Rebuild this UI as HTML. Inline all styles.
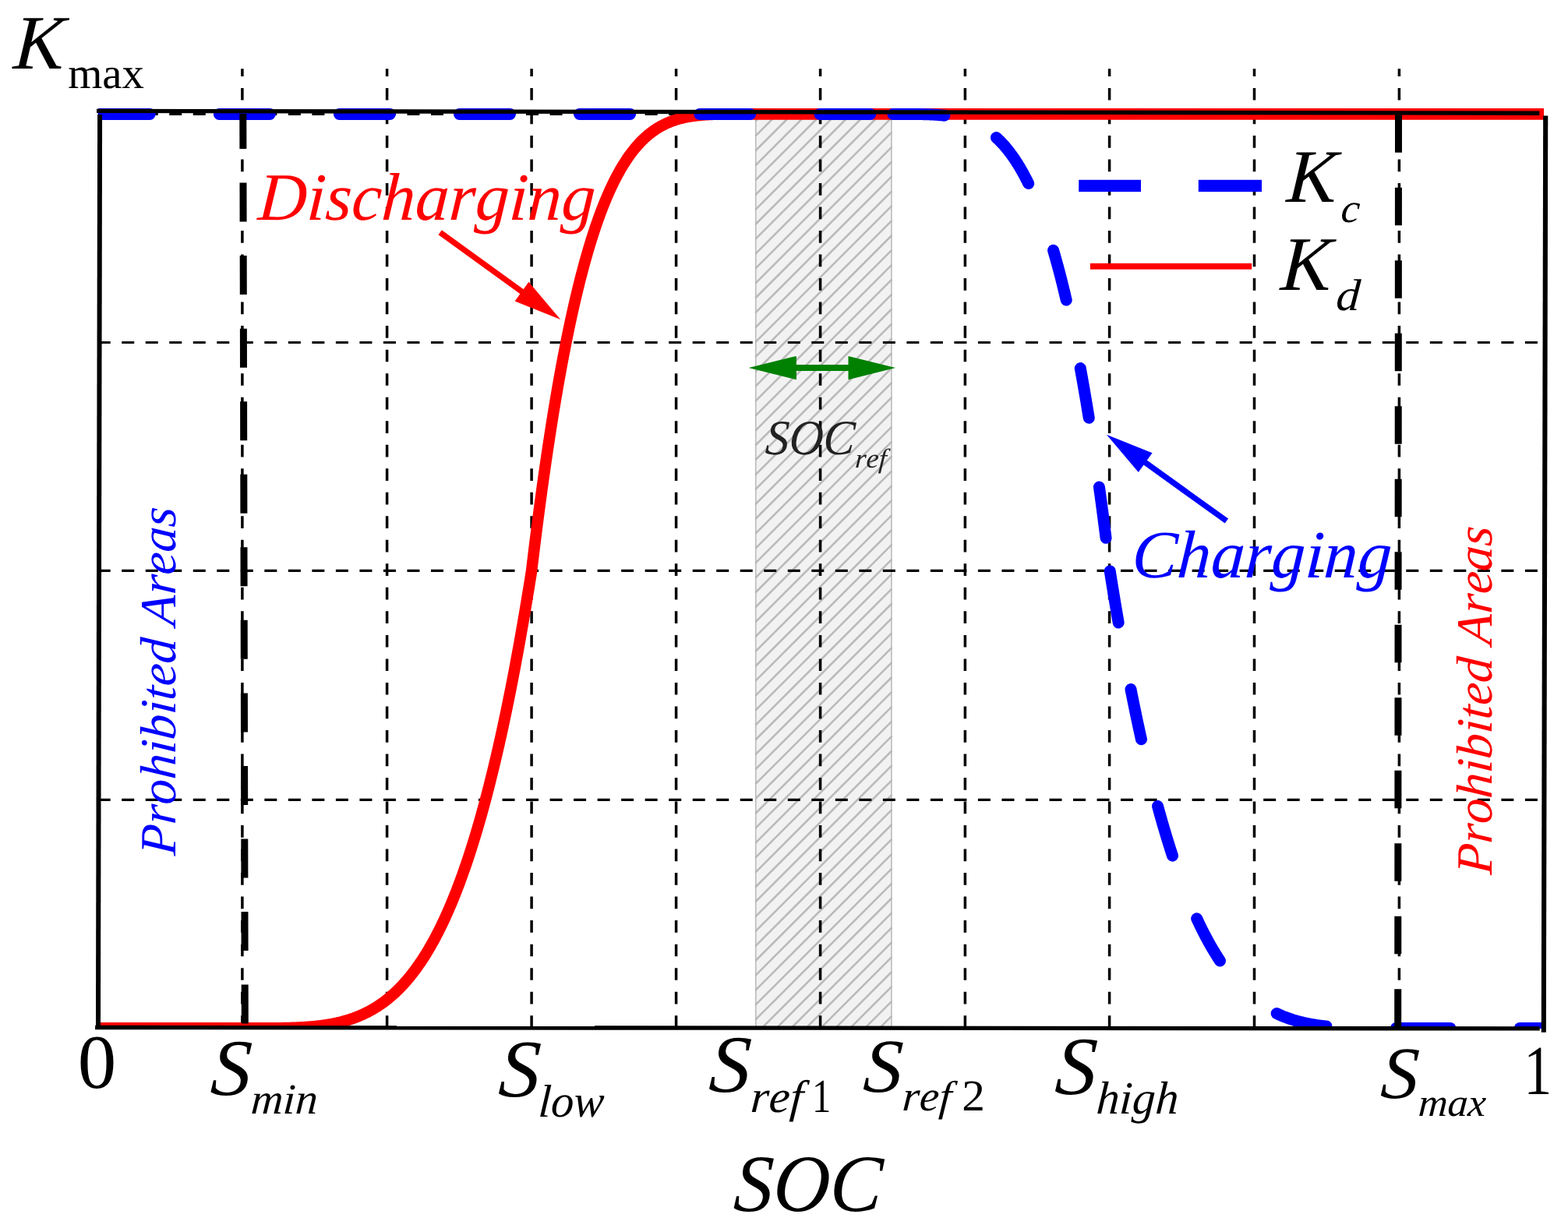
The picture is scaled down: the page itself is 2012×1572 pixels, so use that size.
<!DOCTYPE html>
<html lang="en">
<head>
<meta charset="utf-8">
<title>SOC droop coefficient curves</title>
<style>
html,body{margin:0;padding:0;background:#fff;}
body{width:2012px;height:1572px;overflow:hidden;}
svg{display:block;}
text{font-family:"Liberation Serif","Times New Roman",Times,serif;font-kerning:none;text-rendering:geometricPrecision;}
.it{font-style:italic;}
</style>
</head>
<body>
<svg width="2012" height="1572" viewBox="0 0 2012 1572">
<defs>
<clipPath id="axclip"><rect x="125.9" y="100" width="1855.4" height="1218.6"/></clipPath>
<clipPath id="axclip2"><rect x="125.9" y="100" width="1855.4" height="1220"/></clipPath>
</defs>
<rect width="2012" height="1572" fill="#ffffff"/>

<g id="band">
<rect x="969.3" y="146.0" width="175.0" height="1172.6" fill="#f2f2f2"/>
<path d="M969.3,155.7 L979.0,146.0 M969.3,174.6 L997.9,146.0 M969.3,193.5 L1016.8,146.0 M969.3,212.4 L1035.7,146.0 M969.3,231.3 L1054.6,146.0 M969.3,250.2 L1073.5,146.0 M969.3,269.1 L1092.4,146.0 M969.3,288.0 L1111.3,146.0 M969.3,306.9 L1130.2,146.0 M969.3,325.8 L1144.3,150.8 M969.3,344.7 L1144.3,169.7 M969.3,363.6 L1144.3,188.6 M969.3,382.5 L1144.3,207.5 M969.3,401.4 L1144.3,226.4 M969.3,420.3 L1144.3,245.3 M969.3,439.2 L1144.3,264.2 M969.3,458.1 L1144.3,283.1 M969.3,477.0 L1144.3,302.0 M969.3,495.9 L1144.3,320.9 M969.3,514.8 L1144.3,339.8 M969.3,533.7 L1144.3,358.7 M969.3,552.6 L1144.3,377.6 M969.3,571.5 L1144.3,396.5 M969.3,590.4 L1144.3,415.4 M969.3,609.3 L1144.3,434.3 M969.3,628.2 L1144.3,453.2 M969.3,647.1 L1144.3,472.1 M969.3,666.0 L1144.3,491.0 M969.3,684.9 L1144.3,509.9 M969.3,703.8 L1144.3,528.8 M969.3,722.7 L1144.3,547.7 M969.3,741.6 L1144.3,566.6 M969.3,760.5 L1144.3,585.5 M969.3,779.4 L1144.3,604.4 M969.3,798.3 L1144.3,623.3 M969.3,817.2 L1144.3,642.2 M969.3,836.1 L1144.3,661.1 M969.3,855.0 L1144.3,680.0 M969.3,873.9 L1144.3,698.9 M969.3,892.8 L1144.3,717.8 M969.3,911.7 L1144.3,736.7 M969.3,930.6 L1144.3,755.6 M969.3,949.5 L1144.3,774.5 M969.3,968.4 L1144.3,793.4 M969.3,987.3 L1144.3,812.3 M969.3,1006.2 L1144.3,831.2 M969.3,1025.1 L1144.3,850.1 M969.3,1044.0 L1144.3,869.0 M969.3,1062.9 L1144.3,887.9 M969.3,1081.8 L1144.3,906.8 M969.3,1100.7 L1144.3,925.7 M969.3,1119.6 L1144.3,944.6 M969.3,1138.5 L1144.3,963.5 M969.3,1157.4 L1144.3,982.4 M969.3,1176.3 L1144.3,1001.3 M969.3,1195.2 L1144.3,1020.2 M969.3,1214.1 L1144.3,1039.1 M969.3,1233.0 L1144.3,1058.0 M969.3,1251.9 L1144.3,1076.9 M969.3,1270.8 L1144.3,1095.8 M969.3,1289.7 L1144.3,1114.7 M969.3,1308.6 L1144.3,1133.6 M978.2,1318.6 L1144.3,1152.5 M997.1,1318.6 L1144.3,1171.4 M1016.0,1318.6 L1144.3,1190.3 M1034.9,1318.6 L1144.3,1209.2 M1053.8,1318.6 L1144.3,1228.1 M1072.7,1318.6 L1144.3,1247.0 M1091.6,1318.6 L1144.3,1265.9 M1110.5,1318.6 L1144.3,1284.8 M1129.4,1318.6 L1144.3,1303.7" stroke="#bababa" stroke-width="2.6" fill="none"/>
<path d="M969.8,146.0 V1318.6 M1143.8999999999999,146.0 V1318.6" stroke="#b4b4b4" stroke-width="1.4" fill="none"/>
</g>
<g id="grid" stroke="#000" fill="none">
<path d="M310.90,1318.9 V88.3" stroke-width="3.5" stroke-dasharray="15.7 14.82"/>
<path d="M496.60,1318.9 V88.3" stroke-width="3.5" stroke-dasharray="15.7 14.82"/>
<path d="M682.10,1318.9 V88.3" stroke-width="3.5" stroke-dasharray="15.7 14.82"/>
<path d="M867.60,1318.9 V88.3" stroke-width="3.5" stroke-dasharray="15.7 14.82"/>
<path d="M1052.60,1318.9 V88.3" stroke-width="3.5" stroke-dasharray="15.7 14.82"/>
<path d="M1238.40,1318.9 V88.3" stroke-width="3.5" stroke-dasharray="15.7 14.82"/>
<path d="M1423.60,1318.9 V88.3" stroke-width="3.5" stroke-dasharray="15.7 14.82"/>
<path d="M1609.50,1318.9 V88.3" stroke-width="3.5" stroke-dasharray="15.7 14.82"/>
<path d="M1795.40,1318.9 V88.3" stroke-width="3.5" stroke-dasharray="15.7 14.82"/>
<path d="M125.7,146.30 H1974" stroke-width="3.2" stroke-dasharray="16 14.52"/>
<path d="M125.7,439.50 H1974" stroke-width="3.2" stroke-dasharray="16 14.52"/>
<path d="M125.7,732.40 H1974" stroke-width="3.2" stroke-dasharray="16 14.52"/>
<path d="M125.7,1026.40 H1974" stroke-width="3.2" stroke-dasharray="16 14.52"/>
</g>
<g id="kd" clip-path="url(#axclip)">
<path d="M124.00,1319.40 L310.95,1319.40 L311.88,1319.40 L312.81,1319.40 L313.73,1319.40 L314.66,1319.40 L315.59,1319.40 L316.52,1319.40 L317.44,1319.40 L318.37,1319.40 L319.30,1319.40 L320.23,1319.40 L321.16,1319.40 L322.08,1319.40 L323.01,1319.40 L323.94,1319.40 L324.87,1319.40 L325.79,1319.40 L326.72,1319.40 L327.65,1319.40 L328.58,1319.40 L329.50,1319.40 L330.43,1319.40 L331.36,1319.39 L332.29,1319.39 L333.22,1319.39 L334.14,1319.39 L335.07,1319.39 L336.00,1319.39 L336.93,1319.39 L337.85,1319.38 L338.78,1319.38 L339.71,1319.38 L340.64,1319.38 L341.57,1319.37 L342.49,1319.37 L343.42,1319.37 L344.35,1319.36 L345.28,1319.36 L346.20,1319.35 L347.13,1319.35 L348.06,1319.34 L348.99,1319.34 L349.92,1319.33 L350.84,1319.32 L351.77,1319.31 L352.70,1319.31 L353.63,1319.30 L354.55,1319.29 L355.48,1319.28 L356.41,1319.27 L357.34,1319.26 L358.27,1319.25 L359.19,1319.23 L360.12,1319.22 L361.05,1319.21 L361.98,1319.19 L362.90,1319.17 L363.83,1319.16 L364.76,1319.14 L365.69,1319.12 L366.62,1319.10 L367.54,1319.08 L368.47,1319.06 L369.40,1319.04 L370.33,1319.02 L371.25,1318.99 L372.18,1318.97 L373.11,1318.94 L374.04,1318.91 L374.96,1318.88 L375.89,1318.85 L376.82,1318.82 L377.75,1318.78 L378.68,1318.75 L379.60,1318.71 L380.53,1318.68 L381.46,1318.64 L382.39,1318.59 L383.31,1318.55 L384.24,1318.51 L385.17,1318.46 L386.10,1318.41 L387.03,1318.36 L387.95,1318.31 L388.88,1318.26 L389.81,1318.20 L390.74,1318.15 L391.66,1318.09 L392.59,1318.03 L393.52,1317.96 L394.45,1317.90 L395.38,1317.83 L396.30,1317.76 L397.23,1317.69 L398.16,1317.61 L399.09,1317.53 L400.01,1317.45 L400.94,1317.37 L401.87,1317.29 L402.80,1317.20 L403.73,1317.11 L404.65,1317.02 L405.58,1316.92 L406.51,1316.82 L407.44,1316.72 L408.36,1316.62 L409.29,1316.51 L410.22,1316.40 L411.15,1316.28 L412.07,1316.17 L413.00,1316.05 L413.93,1315.92 L414.86,1315.80 L415.79,1315.66 L416.71,1315.53 L417.64,1315.39 L418.57,1315.25 L419.50,1315.11 L420.42,1314.96 L421.35,1314.81 L422.28,1314.65 L423.21,1314.49 L424.14,1314.32 L425.06,1314.16 L425.99,1313.98 L426.92,1313.81 L427.85,1313.63 L428.77,1313.44 L429.70,1313.25 L430.63,1313.06 L431.56,1312.86 L432.49,1312.65 L433.41,1312.44 L434.34,1312.23 L435.27,1312.01 L436.20,1311.79 L437.12,1311.56 L438.05,1311.33 L438.98,1311.09 L439.91,1310.85 L440.84,1310.60 L441.76,1310.34 L442.69,1310.09 L443.62,1309.82 L444.55,1309.55 L445.47,1309.27 L446.40,1308.99 L447.33,1308.70 L448.26,1308.41 L449.18,1308.11 L450.11,1307.80 L451.04,1307.49 L451.97,1307.17 L452.90,1306.85 L453.82,1306.51 L454.75,1306.18 L455.68,1305.83 L456.61,1305.48 L457.53,1305.12 L458.46,1304.76 L459.39,1304.39 L460.32,1304.01 L461.25,1303.62 L462.17,1303.23 L463.10,1302.83 L464.03,1302.42 L464.96,1302.00 L465.88,1301.58 L466.81,1301.15 L467.74,1300.71 L468.67,1300.27 L469.60,1299.81 L470.52,1299.35 L471.45,1298.88 L472.38,1298.40 L473.31,1297.91 L474.23,1297.42 L475.16,1296.91 L476.09,1296.40 L477.02,1295.88 L477.95,1295.35 L478.87,1294.81 L479.80,1294.26 L480.73,1293.71 L481.66,1293.14 L482.58,1292.56 L483.51,1291.98 L484.44,1291.38 L485.37,1290.78 L486.29,1290.17 L487.22,1289.54 L488.15,1288.91 L489.08,1288.27 L490.01,1287.61 L490.93,1286.95 L491.86,1286.27 L492.79,1285.59 L493.72,1284.89 L494.64,1284.19 L495.57,1283.47 L496.50,1282.74 L497.43,1282.01 L498.36,1281.26 L499.28,1280.49 L500.21,1279.72 L501.14,1278.94 L502.07,1278.14 L502.99,1277.34 L503.92,1276.52 L504.85,1275.69 L505.78,1274.84 L506.71,1273.99 L507.63,1273.12 L508.56,1272.24 L509.49,1271.35 L510.42,1270.45 L511.34,1269.53 L512.27,1268.60 L513.20,1267.66 L514.13,1266.70 L515.06,1265.73 L515.98,1264.75 L516.91,1263.75 L517.84,1262.74 L518.77,1261.72 L519.69,1260.68 L520.62,1259.63 L521.55,1258.57 L522.48,1257.49 L523.40,1256.40 L524.33,1255.29 L525.26,1254.17 L526.19,1253.03 L527.12,1251.88 L528.04,1250.71 L528.97,1249.53 L529.90,1248.33 L530.83,1247.12 L531.75,1245.89 L532.68,1244.65 L533.61,1243.39 L534.54,1242.11 L535.47,1240.82 L536.39,1239.52 L537.32,1238.19 L538.25,1236.85 L539.18,1235.50 L540.10,1234.13 L541.03,1232.74 L541.96,1231.33 L542.89,1229.91 L543.82,1228.47 L544.74,1227.01 L545.67,1225.53 L546.60,1224.04 L547.53,1222.53 L548.45,1221.00 L549.38,1219.46 L550.31,1217.89 L551.24,1216.31 L552.17,1214.71 L553.09,1213.09 L554.02,1211.45 L554.95,1209.79 L555.88,1208.11 L556.80,1206.42 L557.73,1204.70 L558.66,1202.97 L559.59,1201.21 L560.51,1199.44 L561.44,1197.65 L562.37,1195.83 L563.30,1194.00 L564.23,1192.14 L565.15,1190.27 L566.08,1188.37 L567.01,1186.46 L567.94,1184.52 L568.86,1182.56 L569.79,1180.58 L570.72,1178.58 L571.65,1176.56 L572.58,1174.51 L573.50,1172.45 L574.43,1170.36 L575.36,1168.25 L576.29,1166.12 L577.21,1163.96 L578.14,1161.78 L579.07,1159.58 L580.00,1157.36 L580.93,1155.11 L581.85,1152.84 L582.78,1150.55 L583.71,1148.23 L584.64,1145.89 L585.56,1143.53 L586.49,1141.14 L587.42,1138.73 L588.35,1136.29 L589.27,1133.83 L590.20,1131.34 L591.13,1128.83 L592.06,1126.29 L592.99,1123.73 L593.91,1121.14 L594.84,1118.53 L595.77,1115.89 L596.70,1113.23 L597.62,1110.54 L598.55,1107.82 L599.48,1105.08 L600.41,1102.31 L601.34,1099.51 L602.26,1096.69 L603.19,1093.84 L604.12,1090.96 L605.05,1088.05 L605.97,1085.12 L606.90,1082.16 L607.83,1079.17 L608.76,1076.15 L609.69,1073.11 L610.61,1070.03 L611.54,1066.93 L612.47,1063.80 L613.40,1060.64 L614.32,1057.45 L615.25,1054.23 L616.18,1050.98 L617.11,1047.70 L618.04,1044.40 L618.96,1041.06 L619.89,1037.69 L620.82,1034.29 L621.75,1030.86 L622.67,1027.40 L623.60,1023.91 L624.53,1020.38 L625.46,1016.83 L626.38,1013.24 L627.31,1009.63 L628.24,1005.98 L629.17,1002.29 L630.10,998.58 L631.02,994.83 L631.95,991.05 L632.88,987.24 L633.81,983.40 L634.73,979.52 L635.66,975.60 L636.59,971.66 L637.52,967.68 L638.45,963.66 L639.37,959.62 L640.30,955.53 L641.23,951.42 L642.16,947.26 L643.08,943.08 L644.01,938.86 L644.94,934.60 L645.87,930.30 L646.80,925.97 L647.72,921.61 L648.65,917.21 L649.58,912.77 L650.51,908.30 L651.43,903.78 L652.36,899.24 L653.29,894.65 L654.22,890.03 L655.15,885.37 L656.07,880.67 L657.00,875.93 L657.93,871.16 L658.86,866.34 L659.78,861.49 L660.71,856.60 L661.64,851.67 L662.57,846.70 L663.50,841.69 L664.42,836.64 L665.35,831.56 L666.28,826.43 L667.21,821.26 L668.13,816.05 L669.06,810.80 L669.99,805.51 L670.92,800.18 L671.84,794.80 L672.77,789.39 L673.70,783.93 L674.63,778.43 L675.56,772.89 L676.48,767.31 L677.41,761.68 L678.34,756.01 L679.27,750.30 L680.19,744.54 L681.12,738.74 L682.05,732.90 L682.98,725.12 L683.91,717.42 L684.83,709.79 L685.76,702.24 L686.69,694.77 L687.62,687.37 L688.54,680.05 L689.47,672.80 L690.40,665.62 L691.33,658.52 L692.26,651.50 L693.18,644.54 L694.11,637.66 L695.04,630.85 L695.97,624.11 L696.89,617.44 L697.82,610.84 L698.75,604.31 L699.68,597.85 L700.61,591.46 L701.53,585.13 L702.46,578.88 L703.39,572.69 L704.32,566.56 L705.24,560.51 L706.17,554.52 L707.10,548.59 L708.03,542.73 L708.95,536.94 L709.88,531.20 L710.81,525.53 L711.74,519.93 L712.67,514.38 L713.59,508.90 L714.52,503.48 L715.45,498.12 L716.38,492.82 L717.30,487.58 L718.23,482.40 L719.16,477.28 L720.09,472.22 L721.02,467.22 L721.94,462.28 L722.87,457.39 L723.80,452.56 L724.73,447.78 L725.65,443.06 L726.58,438.40 L727.51,433.79 L728.44,429.24 L729.37,424.74 L730.29,420.30 L731.22,415.91 L732.15,411.57 L733.08,407.28 L734.00,403.05 L734.93,398.87 L735.86,394.74 L736.79,390.66 L737.72,386.63 L738.64,382.65 L739.57,378.72 L740.50,374.84 L741.43,371.01 L742.35,367.23 L743.28,363.49 L744.21,359.81 L745.14,356.17 L746.06,352.57 L746.99,349.03 L747.92,345.52 L748.85,342.07 L749.78,338.66 L750.70,335.29 L751.63,331.97 L752.56,328.70 L753.49,325.46 L754.41,322.27 L755.34,319.12 L756.27,316.02 L757.20,312.96 L758.13,309.93 L759.05,306.95 L759.98,304.02 L760.91,301.12 L761.84,298.26 L762.76,295.44 L763.69,292.66 L764.62,289.92 L765.55,287.22 L766.48,284.56 L767.40,281.93 L768.33,279.34 L769.26,276.79 L770.19,274.28 L771.11,271.80 L772.04,269.36 L772.97,266.96 L773.90,264.59 L774.82,262.25 L775.75,259.95 L776.68,257.69 L777.61,255.46 L778.54,253.26 L779.46,251.09 L780.39,248.96 L781.32,246.86 L782.25,244.80 L783.17,242.76 L784.10,240.76 L785.03,238.79 L785.96,236.85 L786.89,234.94 L787.81,233.06 L788.74,231.21 L789.67,229.40 L790.60,227.61 L791.52,225.85 L792.45,224.11 L793.38,222.41 L794.31,220.74 L795.24,219.09 L796.16,217.47 L797.09,215.88 L798.02,214.31 L798.95,212.77 L799.87,211.26 L800.80,209.77 L801.73,208.31 L802.66,206.88 L803.59,205.46 L804.51,204.08 L805.44,202.72 L806.37,201.38 L807.30,200.07 L808.22,198.78 L809.15,197.51 L810.08,196.27 L811.01,195.05 L811.93,193.85 L812.86,192.68 L813.79,191.52 L814.72,190.39 L815.65,189.28 L816.57,188.19 L817.50,187.13 L818.43,186.08 L819.36,185.05 L820.28,184.04 L821.21,183.06 L822.14,182.09 L823.07,181.14 L824.00,180.21 L824.92,179.30 L825.85,178.41 L826.78,177.53 L827.71,176.68 L828.63,175.84 L829.56,175.02 L830.49,174.22 L831.42,173.43 L832.35,172.66 L833.27,171.91 L834.20,171.17 L835.13,170.45 L836.06,169.75 L836.98,169.06 L837.91,168.38 L838.84,167.72 L839.77,167.08 L840.70,166.45 L841.62,165.84 L842.55,165.24 L843.48,164.65 L844.41,164.08 L845.33,163.52 L846.26,162.97 L847.19,162.44 L848.12,161.92 L849.04,161.41 L849.97,160.92 L850.90,160.44 L851.83,159.97 L852.76,159.51 L853.68,159.06 L854.61,158.63 L855.54,158.21 L856.47,157.79 L857.39,157.39 L858.32,157.00 L859.25,156.62 L860.18,156.25 L861.11,155.89 L862.03,155.54 L862.96,155.20 L863.89,154.87 L864.82,154.55 L865.74,154.24 L866.67,153.93 L867.60,153.64 L868.53,153.36 L869.46,153.08 L870.38,152.81 L871.31,152.55 L872.24,152.30 L873.17,152.05 L874.09,151.82 L875.02,151.59 L875.95,151.37 L876.88,151.15 L877.81,150.94 L878.73,150.74 L879.66,150.55 L880.59,150.36 L881.52,150.18 L882.44,150.00 L883.37,149.84 L884.30,149.67 L885.23,149.52 L886.16,149.37 L887.08,149.22 L888.01,149.08 L888.94,148.95 L889.87,148.82 L890.79,148.69 L891.72,148.57 L892.65,148.46 L893.58,148.35 L894.50,148.24 L895.43,148.14 L896.36,148.04 L897.29,147.95 L898.22,147.86 L899.14,147.77 L900.07,147.69 L901.00,147.61 L901.93,147.54 L902.85,147.47 L903.78,147.40 L904.71,147.34 L905.64,147.28 L906.57,147.22 L907.49,147.16 L908.42,147.11 L909.35,147.06 L910.28,147.02 L911.20,146.97 L912.13,146.93 L913.06,146.89 L913.99,146.85 L914.92,146.82 L915.84,146.78 L916.77,146.75 L917.70,146.72 L918.63,146.70 L919.55,146.67 L920.48,146.65 L921.41,146.63 L922.34,146.60 L923.26,146.59 L924.19,146.57 L925.12,146.55 L926.05,146.54 L926.98,146.52 L927.90,146.51 L928.83,146.50 L929.76,146.49 L930.69,146.48 L931.61,146.47 L932.54,146.46 L933.47,146.45 L934.40,146.44 L935.33,146.44 L936.25,146.43 L937.18,146.43 L938.11,146.42 L939.04,146.42 L939.96,146.42 L940.89,146.41 L941.82,146.41 L942.75,146.41 L943.68,146.41 L944.60,146.41 L945.53,146.40 L946.46,146.40 L947.39,146.40 L948.31,146.40 L949.24,146.40 L950.17,146.40 L951.10,146.40 L952.03,146.40 L952.95,146.40 L953.88,146.40 L954.81,146.40 L955.74,146.40 L956.66,146.40 L957.59,146.40 L958.52,146.40 L959.45,146.40 L960.37,146.40 L1981.20,146.40" stroke="#ff0000" stroke-width="14.6" fill="none" stroke-linejoin="round"/>
</g>
<g id="kc" clip-path="url(#axclip2)" stroke="#0000ff" stroke-width="15" fill="none" stroke-linecap="round" stroke-linejoin="round">
<path d="M127.2,146.4 H1145.9" stroke-dasharray="65 89.1"/>
<path d="M1145.93,146.40 L1146.62,146.40 L1147.32,146.40 L1148.01,146.40 L1148.71,146.40 L1149.40,146.40 L1150.10,146.40 L1150.80,146.40 L1151.49,146.40 L1152.19,146.40 L1152.88,146.40 L1153.58,146.40 L1154.27,146.40 L1154.97,146.40 L1155.67,146.40 L1156.36,146.40 L1157.06,146.40 L1157.75,146.40 L1158.45,146.40 L1159.15,146.40 L1159.84,146.40 L1160.54,146.40 L1161.23,146.41 L1161.93,146.41 L1162.62,146.41 L1163.32,146.41 L1164.02,146.41 L1164.71,146.41 L1165.41,146.41 L1166.10,146.42 L1166.80,146.42 L1167.50,146.42 L1168.19,146.42 L1168.89,146.43 L1169.58,146.43 L1170.28,146.43 L1170.97,146.44 L1171.67,146.44 L1172.37,146.45 L1173.06,146.45 L1173.76,146.46 L1174.45,146.46 L1175.15,146.47 L1175.84,146.48 L1176.54,146.49 L1177.24,146.49 L1177.93,146.50 L1178.63,146.51 L1179.32,146.52 L1180.02,146.53 L1180.72,146.54 L1181.41,146.55 L1182.11,146.57 L1182.80,146.58 L1183.50,146.59 L1184.19,146.61 L1184.89,146.63 L1185.59,146.64 L1186.28,146.66 L1186.98,146.68 L1187.67,146.70 L1188.37,146.72 L1189.07,146.74 L1189.76,146.76 L1190.46,146.78 L1191.15,146.81 L1191.85,146.83 L1192.54,146.86 L1193.24,146.89 L1193.94,146.92 L1194.63,146.95 L1195.33,146.98 L1196.02,147.02 L1196.72,147.05 L1197.42,147.09 L1198.11,147.12 L1198.81,147.16 L1199.50,147.21 L1200.20,147.25 L1200.89,147.29 L1201.59,147.34 L1202.29,147.39 L1202.98,147.44 L1203.68,147.49 L1204.37,147.54 L1205.07,147.60 L1205.76,147.65 L1206.46,147.71 L1207.16,147.77 L1207.85,147.84 L1208.55,147.90 L1209.24,147.97 L1209.94,148.04 L1210.64,148.11 L1211.33,148.19 L1212.03,148.27 L1212.72,148.35 L1213.42,148.43 L1214.11,148.51 L1214.81,148.60 L1215.51,148.69 L1216.20,148.78 L1216.90,148.88 L1217.59,148.98 L1218.29,149.08 L1218.99,149.18 L1219.68,149.29 L1220.38,149.40 L1221.07,149.52 L1221.77,149.63 L1222.46,149.75 L1223.16,149.88 L1223.86,150.00 L1224.55,150.14 L1225.25,150.27 L1225.94,150.41 L1226.64,150.55 L1227.34,150.69 L1228.03,150.84 L1228.73,150.99 L1229.42,151.15 L1230.12,151.31 L1230.81,151.48 L1231.51,151.64 L1232.21,151.82 L1232.90,151.99 L1233.60,152.17 L1234.29,152.36 L1234.99,152.55 L1235.68,152.74 L1236.38,152.94 L1237.08,153.15 L1237.77,153.36 L1238.47,153.57 L1239.16,153.79 L1239.86,154.01 L1240.56,154.24 L1241.25,154.47 L1241.95,154.71 L1242.64,154.95 L1243.34,155.20 L1244.03,155.46 L1244.73,155.71 L1245.43,155.98 L1246.12,156.25 L1246.82,156.53 L1247.51,156.81 L1248.21,157.10 L1248.91,157.39 L1249.60,157.69 L1250.30,158.00 L1250.99,158.31 L1251.69,158.63 L1252.38,158.95 L1253.08,159.29 L1253.78,159.62 L1254.47,159.97 L1255.17,160.32 L1255.86,160.68 L1256.56,161.04 L1257.26,161.41 L1257.95,161.79 L1258.65,162.18 L1259.34,162.57 L1260.04,162.97 L1260.73,163.38 L1261.43,163.80 L1262.13,164.22 L1262.82,164.65 L1263.52,165.09 L1264.21,165.53 L1264.91,165.99 L1265.60,166.45 L1266.30,166.92 L1267.00,167.40 L1267.69,167.89 L1268.39,168.38 L1269.08,168.89 L1269.78,169.40 L1270.48,169.92 L1271.17,170.45 L1271.87,170.99 L1272.56,171.54 L1273.26,172.09 L1273.95,172.66 L1274.65,173.24 L1275.35,173.82 L1276.04,174.42 L1276.74,175.02 L1277.43,175.63 L1278.13,176.26 L1278.83,176.89 L1279.52,177.53 L1280.22,178.19 L1280.91,178.85 L1281.61,179.53 L1282.30,180.21 L1283.00,180.91 L1283.70,181.61 L1284.39,182.33 L1285.09,183.06 L1285.78,183.79 L1286.48,184.54 L1287.17,185.31 L1287.87,186.08 L1288.57,186.86 L1289.26,187.66 L1289.96,188.46 L1290.65,189.28 L1291.35,190.11 L1292.05,190.96 L1292.74,191.81 L1293.44,192.68 L1294.13,193.56 L1294.83,194.45 L1295.52,195.35 L1296.22,196.27 L1296.92,197.20 L1297.61,198.14 L1298.31,199.10 L1299.00,200.07 L1299.70,201.05 L1300.40,202.05 L1301.09,203.06 L1301.79,204.08 L1302.48,205.12 L1303.18,206.17 L1303.87,207.23 L1304.57,208.31 L1305.27,209.40 L1305.96,210.51 L1306.66,211.63 L1307.35,212.77 L1308.05,213.92 L1308.75,215.09 L1309.44,216.27 L1310.14,217.47 L1310.83,218.68 L1311.53,219.91 L1312.22,221.15 L1312.92,222.41 L1313.62,223.69 L1314.31,224.98 L1315.01,226.28 L1315.70,227.61 L1316.40,228.95 L1317.09,230.30 L1317.79,231.67 L1318.49,233.06 L1319.18,234.47 L1319.88,235.89 L1320.57,237.33 L1321.27,238.79 L1321.97,240.27 L1322.66,241.76 L1323.36,243.27 L1324.05,244.80 L1324.75,246.34 L1325.44,247.91 L1326.14,249.49 L1326.84,251.09 L1327.53,252.71 L1328.23,254.35 L1328.92,256.01 L1329.62,257.69 L1330.32,259.38 L1331.01,261.10 L1331.71,262.83 L1332.40,264.59 L1333.10,266.36 L1333.79,268.15 L1334.49,269.97 L1335.19,271.80 L1335.88,273.66 L1336.58,275.53 L1337.27,277.43 L1337.97,279.34 L1338.67,281.28 L1339.36,283.24 L1340.06,285.22 L1340.75,287.22 L1341.45,289.24 L1342.14,291.29 L1342.84,293.35 L1343.54,295.44 L1344.23,297.55 L1344.93,299.68 L1345.62,301.84 L1346.32,304.02 L1347.01,306.22 L1347.71,308.44 L1348.41,310.69 L1349.10,312.96 L1349.80,315.25 L1350.49,317.57 L1351.19,319.91 L1351.89,322.27 L1352.58,324.66 L1353.28,327.07 L1353.97,329.51 L1354.67,331.97 L1355.36,334.46 L1356.06,336.97 L1356.76,339.51 L1357.45,342.07 L1358.15,344.66 L1358.84,347.27 L1359.54,349.91 L1360.24,352.57 L1360.93,355.26 L1361.63,357.98 L1362.32,360.72 L1363.02,363.49 L1363.71,366.29 L1364.41,369.11 L1365.11,371.96 L1365.80,374.84 L1366.50,377.75 L1367.19,380.68 L1367.89,383.64 L1368.59,386.63 L1369.28,389.65 L1369.98,392.69 L1370.67,395.77 L1371.37,398.87 L1372.06,402.00 L1372.76,405.16 L1373.46,408.35 L1374.15,411.57 L1374.85,414.82 L1375.54,418.10 L1376.24,421.40 L1376.93,424.74 L1377.63,428.11 L1378.33,431.51 L1379.02,434.94 L1379.72,438.40 L1380.41,441.89 L1381.11,445.42 L1381.81,448.97 L1382.50,452.56 L1383.20,456.17 L1383.89,459.82 L1384.59,463.51 L1385.28,467.22 L1385.98,470.97 L1386.68,474.75 L1387.37,478.56 L1388.07,482.40 L1388.76,486.28 L1389.46,490.20 L1390.16,494.14 L1390.85,498.12 L1391.55,502.14 L1392.24,506.18 L1392.94,510.27 L1393.63,514.38 L1394.33,518.54 L1395.03,522.72 L1395.72,526.94 L1396.42,531.20 L1397.11,535.50 L1397.81,539.83 L1398.50,544.19 L1399.20,548.59 L1399.90,553.03 L1400.59,557.50 L1401.29,562.02 L1401.98,566.56 L1402.68,571.15 L1403.38,575.77 L1404.07,580.43 L1404.77,585.13 L1405.46,589.87 L1406.16,594.64 L1406.85,599.46 L1407.55,604.31 L1408.25,609.20 L1408.94,614.13 L1409.64,619.10 L1410.33,624.11 L1411.03,629.16 L1411.73,634.24 L1412.42,639.37 L1413.12,644.54 L1413.81,649.75 L1414.51,655.00 L1415.20,660.29 L1415.90,665.62 L1416.60,671.00 L1417.29,676.41 L1417.99,681.87 L1418.68,687.37 L1419.38,692.91 L1420.08,698.49 L1420.77,704.12 L1421.47,709.79 L1422.16,715.50 L1422.86,721.26 L1423.55,727.06 L1424.25,732.90" stroke-dasharray="0 0.0 66 73.7 72.3 91.6 66.0 89.4 64.6 89.6 66.0 3000"/>
<path d="M1424.25,732.90 L1424.99,737.58 L1425.73,742.23 L1426.48,746.85 L1427.22,751.44 L1427.96,756.01 L1428.70,760.55 L1429.45,765.06 L1430.19,769.54 L1430.93,774.00 L1431.67,778.43 L1432.41,782.83 L1433.16,787.21 L1433.90,791.56 L1434.64,795.88 L1435.38,800.18 L1436.13,804.44 L1436.87,808.69 L1437.61,812.90 L1438.35,817.09 L1439.09,821.26 L1439.84,825.40 L1440.58,829.51 L1441.32,833.60 L1442.06,837.66 L1442.81,841.69 L1443.55,845.70 L1444.29,849.69 L1445.03,853.65 L1445.77,857.58 L1446.52,861.49 L1447.26,865.38 L1448.00,869.24 L1448.74,873.07 L1449.48,876.88 L1450.23,880.67 L1450.97,884.43 L1451.71,888.17 L1452.45,891.88 L1453.20,895.57 L1453.94,899.24 L1454.68,902.88 L1455.42,906.50 L1456.16,910.09 L1456.91,913.66 L1457.65,917.21 L1458.39,920.73 L1459.13,924.23 L1459.88,927.71 L1460.62,931.17 L1461.36,934.60 L1462.10,938.01 L1462.84,941.39 L1463.59,944.76 L1464.33,948.10 L1465.07,951.42 L1465.81,954.71 L1466.56,957.99 L1467.30,961.24 L1468.04,964.47 L1468.78,967.68 L1469.52,970.87 L1470.27,974.03 L1471.01,977.17 L1471.75,980.30 L1472.49,983.40 L1473.24,986.47 L1473.98,989.53 L1474.72,992.57 L1475.46,995.58 L1476.20,998.58 L1476.95,1001.55 L1477.69,1004.51 L1478.43,1007.44 L1479.17,1010.35 L1479.91,1013.24 L1480.66,1016.11 L1481.40,1018.97 L1482.14,1021.80 L1482.88,1024.61 L1483.63,1027.40 L1484.37,1030.17 L1485.11,1032.92 L1485.85,1035.65 L1486.59,1038.36 L1487.34,1041.06 L1488.08,1043.73 L1488.82,1046.38 L1489.56,1049.02 L1490.31,1051.63 L1491.05,1054.23 L1491.79,1056.81 L1492.53,1059.37 L1493.27,1061.91 L1494.02,1064.43 L1494.76,1066.93 L1495.50,1069.42 L1496.24,1071.88 L1496.99,1074.33 L1497.73,1076.76 L1498.47,1079.17 L1499.21,1081.56 L1499.95,1083.94 L1500.70,1086.30 L1501.44,1088.64 L1502.18,1090.96 L1502.92,1093.26 L1503.67,1095.55 L1504.41,1097.82 L1505.15,1100.07 L1505.89,1102.31 L1506.63,1104.52 L1507.38,1106.73 L1508.12,1108.91 L1508.86,1111.08 L1509.60,1113.23 L1510.35,1115.36 L1511.09,1117.48 L1511.83,1119.58 L1512.57,1121.66 L1513.31,1123.73 L1514.06,1125.78 L1514.80,1127.82 L1515.54,1129.84 L1516.28,1131.84 L1517.03,1133.83 L1517.77,1135.80 L1518.51,1137.76 L1519.25,1139.70 L1519.99,1141.62 L1520.74,1143.53 L1521.48,1145.42 L1522.22,1147.30 L1522.96,1149.16 L1523.70,1151.01 L1524.45,1152.84 L1525.19,1154.66 L1525.93,1156.46 L1526.67,1158.25 L1527.42,1160.03 L1528.16,1161.78 L1528.90,1163.53 L1529.64,1165.26 L1530.38,1166.97 L1531.13,1168.67 L1531.87,1170.36 L1532.61,1172.03 L1533.35,1173.69 L1534.10,1175.33 L1534.84,1176.97 L1535.58,1178.58 L1536.32,1180.18 L1537.06,1181.77 L1537.81,1183.35 L1538.55,1184.91 L1539.29,1186.46 L1540.03,1187.99 L1540.78,1189.51 L1541.52,1191.02 L1542.26,1192.52 L1543.00,1194.00 L1543.74,1195.47 L1544.49,1196.92 L1545.23,1198.37 L1545.97,1199.80 L1546.71,1201.21 L1547.46,1202.62 L1548.20,1204.01 L1548.94,1205.39 L1549.68,1206.76 L1550.42,1208.11 L1551.17,1209.46 L1551.91,1210.79 L1552.65,1212.11 L1553.39,1213.41 L1554.14,1214.71 L1554.88,1215.99 L1555.62,1217.26 L1556.36,1218.52 L1557.10,1219.77 L1557.85,1221.00 L1558.59,1222.23 L1559.33,1223.44 L1560.07,1224.64 L1560.81,1225.83 L1561.56,1227.01 L1562.30,1228.18 L1563.04,1229.33 L1563.78,1230.48 L1564.53,1231.61 L1565.27,1232.74 L1566.01,1233.85 L1566.75,1234.95 L1567.49,1236.04 L1568.24,1237.12 L1568.98,1238.19 L1569.72,1239.25 L1570.46,1240.30 L1571.21,1241.34 L1571.95,1242.37 L1572.69,1243.39 L1573.43,1244.40 L1574.17,1245.40 L1574.92,1246.38 L1575.66,1247.36 L1576.40,1248.33 L1577.14,1249.29 L1577.89,1250.24 L1578.63,1251.18 L1579.37,1252.11 L1580.11,1253.03 L1580.85,1253.94 L1581.60,1254.84 L1582.34,1255.73 L1583.08,1256.62 L1583.82,1257.49 L1584.57,1258.35 L1585.31,1259.21 L1586.05,1260.05 L1586.79,1260.89 L1587.53,1261.72 L1588.28,1262.54 L1589.02,1263.35 L1589.76,1264.15 L1590.50,1264.95 L1591.25,1265.73 L1591.99,1266.51 L1592.73,1267.28 L1593.47,1268.04 L1594.21,1268.79 L1594.96,1269.53 L1595.70,1270.26 L1596.44,1270.99 L1597.18,1271.71 L1597.92,1272.42 L1598.67,1273.12 L1599.41,1273.82 L1600.15,1274.50 L1600.89,1275.18 L1601.64,1275.85 L1602.38,1276.52 L1603.12,1277.17 L1603.86,1277.82 L1604.60,1278.46 L1605.35,1279.10 L1606.09,1279.72 L1606.83,1280.34 L1607.57,1280.95 L1608.32,1281.56 L1609.06,1282.15 L1609.80,1282.74 L1610.54,1283.33 L1611.28,1283.90 L1612.03,1284.47 L1612.77,1285.03 L1613.51,1285.59 L1614.25,1286.14 L1615.00,1286.68 L1615.74,1287.22 L1616.48,1287.74 L1617.22,1288.27 L1617.96,1288.78 L1618.71,1289.29 L1619.45,1289.79 L1620.19,1290.29 L1620.93,1290.78 L1621.68,1291.26 L1622.42,1291.74 L1623.16,1292.21 L1623.90,1292.68 L1624.64,1293.14 L1625.39,1293.59 L1626.13,1294.04 L1626.87,1294.48 L1627.61,1294.92 L1628.36,1295.35 L1629.10,1295.77 L1629.84,1296.19 L1630.58,1296.61 L1631.32,1297.02 L1632.07,1297.42 L1632.81,1297.81 L1633.55,1298.21 L1634.29,1298.59 L1635.03,1298.97 L1635.78,1299.35 L1636.52,1299.72 L1637.26,1300.08 L1638.00,1300.44 L1638.75,1300.80 L1639.49,1301.15 L1640.23,1301.50 L1640.97,1301.84 L1641.71,1302.17 L1642.46,1302.50 L1643.20,1302.83 L1643.94,1303.15 L1644.68,1303.46 L1645.43,1303.78 L1646.17,1304.08 L1646.91,1304.39 L1647.65,1304.68 L1648.39,1304.98 L1649.14,1305.27 L1649.88,1305.55 L1650.62,1305.83 L1651.36,1306.11 L1652.11,1306.38 L1652.85,1306.65 L1653.59,1306.91 L1654.33,1307.17 L1655.07,1307.43 L1655.82,1307.68 L1656.56,1307.92 L1657.30,1308.17 L1658.04,1308.41 L1658.79,1308.64 L1659.53,1308.88 L1660.27,1309.10 L1661.01,1309.33 L1661.75,1309.55 L1662.50,1309.77 L1663.24,1309.98 L1663.98,1310.19 L1664.72,1310.40 L1665.47,1310.60 L1666.21,1310.80 L1666.95,1310.99 L1667.69,1311.19 L1668.43,1311.38 L1669.18,1311.56 L1669.92,1311.75 L1670.66,1311.92 L1671.40,1312.10 L1672.14,1312.27 L1672.89,1312.44 L1673.63,1312.61 L1674.37,1312.78 L1675.11,1312.94 L1675.86,1313.09 L1676.60,1313.25 L1677.34,1313.40 L1678.08,1313.55 L1678.82,1313.70 L1679.57,1313.84 L1680.31,1313.98 L1681.05,1314.12 L1681.79,1314.26 L1682.54,1314.39 L1683.28,1314.52 L1684.02,1314.65 L1684.76,1314.77 L1685.50,1314.90 L1686.25,1315.02 L1686.99,1315.14 L1687.73,1315.25 L1688.47,1315.37 L1689.22,1315.48 L1689.96,1315.58 L1690.70,1315.69 L1691.44,1315.80 L1692.18,1315.90 L1692.93,1316.00 L1693.67,1316.09 L1694.41,1316.19 L1695.15,1316.28 L1695.90,1316.37 L1696.64,1316.46 L1697.38,1316.55 L1698.12,1316.64 L1698.86,1316.72 L1699.61,1316.80 L1700.35,1316.88 L1701.09,1316.96 L1701.83,1317.03 L1702.58,1317.11 L1703.32,1317.18 L1704.06,1317.25 L1704.80,1317.32 L1705.54,1317.39 L1706.29,1317.45 L1707.03,1317.52 L1707.77,1317.58 L1708.51,1317.64 L1709.25,1317.70 L1710.00,1317.76 L1710.74,1317.82 L1711.48,1317.87 L1712.22,1317.92 L1712.97,1317.98 L1713.71,1318.03 L1714.45,1318.08 L1715.19,1318.12 L1715.93,1318.17 L1716.68,1318.22 L1717.42,1318.26 L1718.16,1318.30 L1718.90,1318.34 L1719.65,1318.38 L1720.39,1318.42 L1721.13,1318.46 L1721.87,1318.50 L1722.61,1318.53 L1723.36,1318.57 L1724.10,1318.60 L1724.84,1318.64 L1725.58,1318.67 L1726.33,1318.70 L1727.07,1318.73 L1727.81,1318.76 L1728.55,1318.78 L1729.29,1318.81 L1730.04,1318.84 L1730.78,1318.86 L1731.52,1318.89 L1732.26,1318.91 L1733.01,1318.93 L1733.75,1318.95 L1734.49,1318.98 L1735.23,1319.00 L1735.97,1319.02 L1736.72,1319.03 L1737.46,1319.05 L1738.20,1319.07 L1738.94,1319.09 L1739.69,1319.10 L1740.43,1319.12 L1741.17,1319.13 L1741.91,1319.15 L1742.65,1319.16 L1743.40,1319.17 L1744.14,1319.19 L1744.88,1319.20 L1745.62,1319.21 L1746.36,1319.22 L1747.11,1319.23 L1747.85,1319.24 L1748.59,1319.25 L1749.33,1319.26 L1750.08,1319.27 L1750.82,1319.28 L1751.56,1319.29 L1752.30,1319.29 L1753.04,1319.30 L1753.79,1319.31 L1754.53,1319.31 L1755.27,1319.32 L1756.01,1319.33 L1756.76,1319.33 L1757.50,1319.34 L1758.24,1319.34 L1758.98,1319.35 L1759.72,1319.35 L1760.47,1319.35 L1761.21,1319.36 L1761.95,1319.36 L1762.69,1319.36 L1763.44,1319.37 L1764.18,1319.37 L1764.92,1319.37 L1765.66,1319.38 L1766.40,1319.38 L1767.15,1319.38 L1767.89,1319.38 L1768.63,1319.38 L1769.37,1319.39 L1770.12,1319.39 L1770.86,1319.39 L1771.60,1319.39 L1772.34,1319.39 L1773.08,1319.39 L1773.83,1319.39 L1774.57,1319.39 L1775.31,1319.40 L1776.05,1319.40 L1776.80,1319.40 L1777.54,1319.40 L1778.28,1319.40 L1779.02,1319.40 L1779.76,1319.40 L1780.51,1319.40 L1781.25,1319.40 L1781.99,1319.40 L1782.73,1319.40 L1783.47,1319.40 L1784.22,1319.40 L1784.96,1319.40 L1785.70,1319.40 L1786.44,1319.40 L1787.19,1319.40 L1787.93,1319.40 L1788.67,1319.40 L1789.41,1319.40 L1790.15,1319.40 L1790.90,1319.40 L1791.64,1319.40 L1792.38,1319.40 L1793.12,1319.40 L1793.87,1319.40 L1794.61,1319.40 L1795.35,1319.40 L1990.00,1319.40" stroke-dasharray="0 0.0 67 87 65.6 88.4 66.3 86.5 62.0 100.4 66.3 89.5 69.5 89.3 262.2 3000"/>
</g>
<g id="limits" fill="#000">
<path d="M311.80,146.00 L311.90,191.00 M311.99,234.55 L312.10,284.55 M312.19,328.10 L312.30,378.10 M312.39,421.65 L312.49,471.65 M312.59,515.20 L312.69,565.20 M312.79,608.75 L312.89,658.75 M312.99,702.30 L313.09,752.30 M313.19,795.85 L313.29,845.85 M313.39,889.40 L313.49,939.40 M313.59,982.95 L313.69,1032.95 M313.78,1076.50 L313.89,1126.50 M313.98,1170.05 L314.09,1220.05 M314.18,1263.60 L314.29,1313.60" stroke="#000" stroke-width="9" fill="none"/>
<path d="M1794.50,147.30 L1794.47,195.80 M1794.44,240.80 L1794.40,289.30 M1794.37,334.30 L1794.34,382.80 M1794.31,427.80 L1794.27,476.30 M1794.24,521.30 L1794.21,569.80 M1794.18,614.80 L1794.15,663.30 M1794.12,708.30 L1794.08,756.80 M1794.05,801.80 L1794.02,850.30 M1793.99,895.30 L1793.96,943.80 M1793.92,988.80 L1793.89,1037.30 M1793.86,1082.30 L1793.83,1130.80 M1793.80,1175.80 L1793.76,1224.30 M1793.73,1269.30 L1793.70,1317.80" stroke="#000" stroke-width="9" fill="none"/>
</g>
<g id="frame" stroke="#000" fill="none" stroke-linecap="butt">
<path d="M124,142.4 L1975.3,145.2" stroke-width="5.4"/>
<path d="M128.1,146.9 L126.0,1321" stroke-width="6"/>
<path d="M122.1,1318.5 L1975.7,1319.9" stroke-width="5.3"/>
<path d="M1983.2,148.5 L1980.8,1324.8" stroke-width="6.1"/>
</g>
<g id="legend">
<rect x="1384.2" y="230.8" width="79.8" height="15.3" fill="#0000ff"/>
<rect x="1537.8" y="230.8" width="81.2" height="15.3" fill="#0000ff"/>
<rect x="1398.9" y="337.9" width="207.3" height="7.8" fill="#ff0000"/>
</g>
<g id="arrows">
<path d="M564.70,298.20 L672.78,376.41" stroke="#ff0000" stroke-width="7.4" fill="none"/><path d="M719.20,410.00 L660.63,386.38 L678.45,361.75 Z" fill="#ff0000"/>
<path d="M1573.90,668.60 L1466.41,591.26" stroke="#0000ff" stroke-width="7.4" fill="none"/><path d="M1419.90,557.80 L1478.54,581.26 L1460.78,605.94 Z" fill="#0000ff"/>
<path d="M1020,472.1 H1090" stroke="#008000" stroke-width="8" fill="none"/>
<path d="M960.6,472.1 L1021.9,456.9 L1021.9,487.3 Z" fill="#008000"/>
<path d="M1149.1,472.1 L1088.5,456.9 L1088.5,487.3 Z" fill="#008000"/>
</g>
<g id="labels">
<text transform="translate(16.14,87.80) scale(0.9824,1) skewX(-3.5)" font-size="99.02" fill="#000" class="it">K</text>
<text transform="translate(87.16,113.15) scale(1.0117,1)" font-size="56.14" fill="#000">max</text>
<text transform="translate(329.92,281.60) skewX(-3.5)" font-size="86.50" fill="#ff0000" class="it">Discharging</text>
<text transform="translate(1451.27,741.40) skewX(-3.5)" font-size="86.90" fill="#0000ff" class="it">Charging</text>
<text transform="translate(1650.12,258.50) scale(0.9867,1) skewX(-3.5)" font-size="97.13" fill="#000" class="it">K</text>
<text transform="translate(1719.79,284.79) scale(1.0535,1) skewX(-3.5)" font-size="52.40" fill="#000" class="it">c</text>
<text transform="translate(1642.24,371.80) scale(0.9803,1) skewX(-3.5)" font-size="98.96" fill="#000" class="it">K</text>
<text transform="translate(1713.49,397.91) scale(1.0718,1) skewX(-3.5)" font-size="57.38" fill="#000" class="it">d</text>
<text transform="translate(981.26,583.48) scale(0.9563,1) skewX(-3.5)" font-size="63.55" fill="#222" class="it">SOC</text>
<text transform="translate(1096.72,599.57) scale(1.0431,1) skewX(-3.5)" font-size="34.90" fill="#222" class="it">ref</text>
<text transform="translate(225.2,1098.55) rotate(-90) skewX(-3.5)" font-size="65.16" fill="#0000ff" class="it">Prohibited Areas</text>
<text transform="translate(1913.7,1123.05) rotate(-90) skewX(-3.5)" font-size="65.16" fill="#ff0000" class="it">Prohibited Areas</text>
<text transform="translate(99.68,1396.14) scale(1.0059,1)" font-size="98.40" fill="#000">0</text>
<text transform="translate(1955.22,1404.10) scale(0.8000,1)" font-size="90.13" fill="#000">1</text>
<text transform="translate(268.96,1405.09) scale(1.0065,1) skewX(-3.5)" font-size="103.00" fill="#000" class="it">S</text>
<text transform="translate(321.14,1429.10) scale(1.0327,1) skewX(-3.5)" font-size="55.28" fill="#000" class="it">min</text>
<text transform="translate(638.52,1407.18) scale(1.0122,1) skewX(-3.5)" font-size="104.93" fill="#000" class="it">S</text>
<text transform="translate(689.89,1432.62) scale(0.9916,1) skewX(-3.5)" font-size="58.98" fill="#000" class="it">low</text>
<text transform="translate(908.52,1400.98) scale(1.0166,1) skewX(-3.5)" font-size="104.48" fill="#000" class="it">S</text>
<text transform="translate(962.13,1427.26) scale(1.0407,1) skewX(-3.5)" font-size="58.45" fill="#000" class="it">ref</text>
<text transform="translate(1041.99,1427.40) scale(0.8000,1)" font-size="60.89" fill="#000">1</text>
<text transform="translate(1106.61,1400.55) scale(1.0235,1) skewX(-3.5)" font-size="97.64" fill="#000" class="it">S</text>
<text transform="translate(1156.89,1425.22) scale(1.0460,1) skewX(-3.5)" font-size="54.42" fill="#000" class="it">ref</text>
<text transform="translate(1234.19,1425.00) scale(1.0510,1)" font-size="56.49" fill="#000">2</text>
<text transform="translate(1352.42,1404.26) skewX(-3.5)" font-size="106.27" fill="#000" class="it">S</text>
<text transform="translate(1405.96,1429.27) skewX(-3.5)" font-size="59.33" fill="#000" class="it">high</text>
<text transform="translate(1770.56,1409.28) scale(1.0204,1) skewX(-3.5)" font-size="94.66" fill="#000" class="it">S</text>
<text transform="translate(1819.22,1432.29) scale(1.0416,1) skewX(-3.5)" font-size="50.00" fill="#000" class="it">max</text>
<text transform="translate(940.35,1553.78) scale(0.9644,1) skewX(-3.5)" font-size="104.33" fill="#000" class="it">SOC</text>
</g>
</svg>
</body>
</html>
